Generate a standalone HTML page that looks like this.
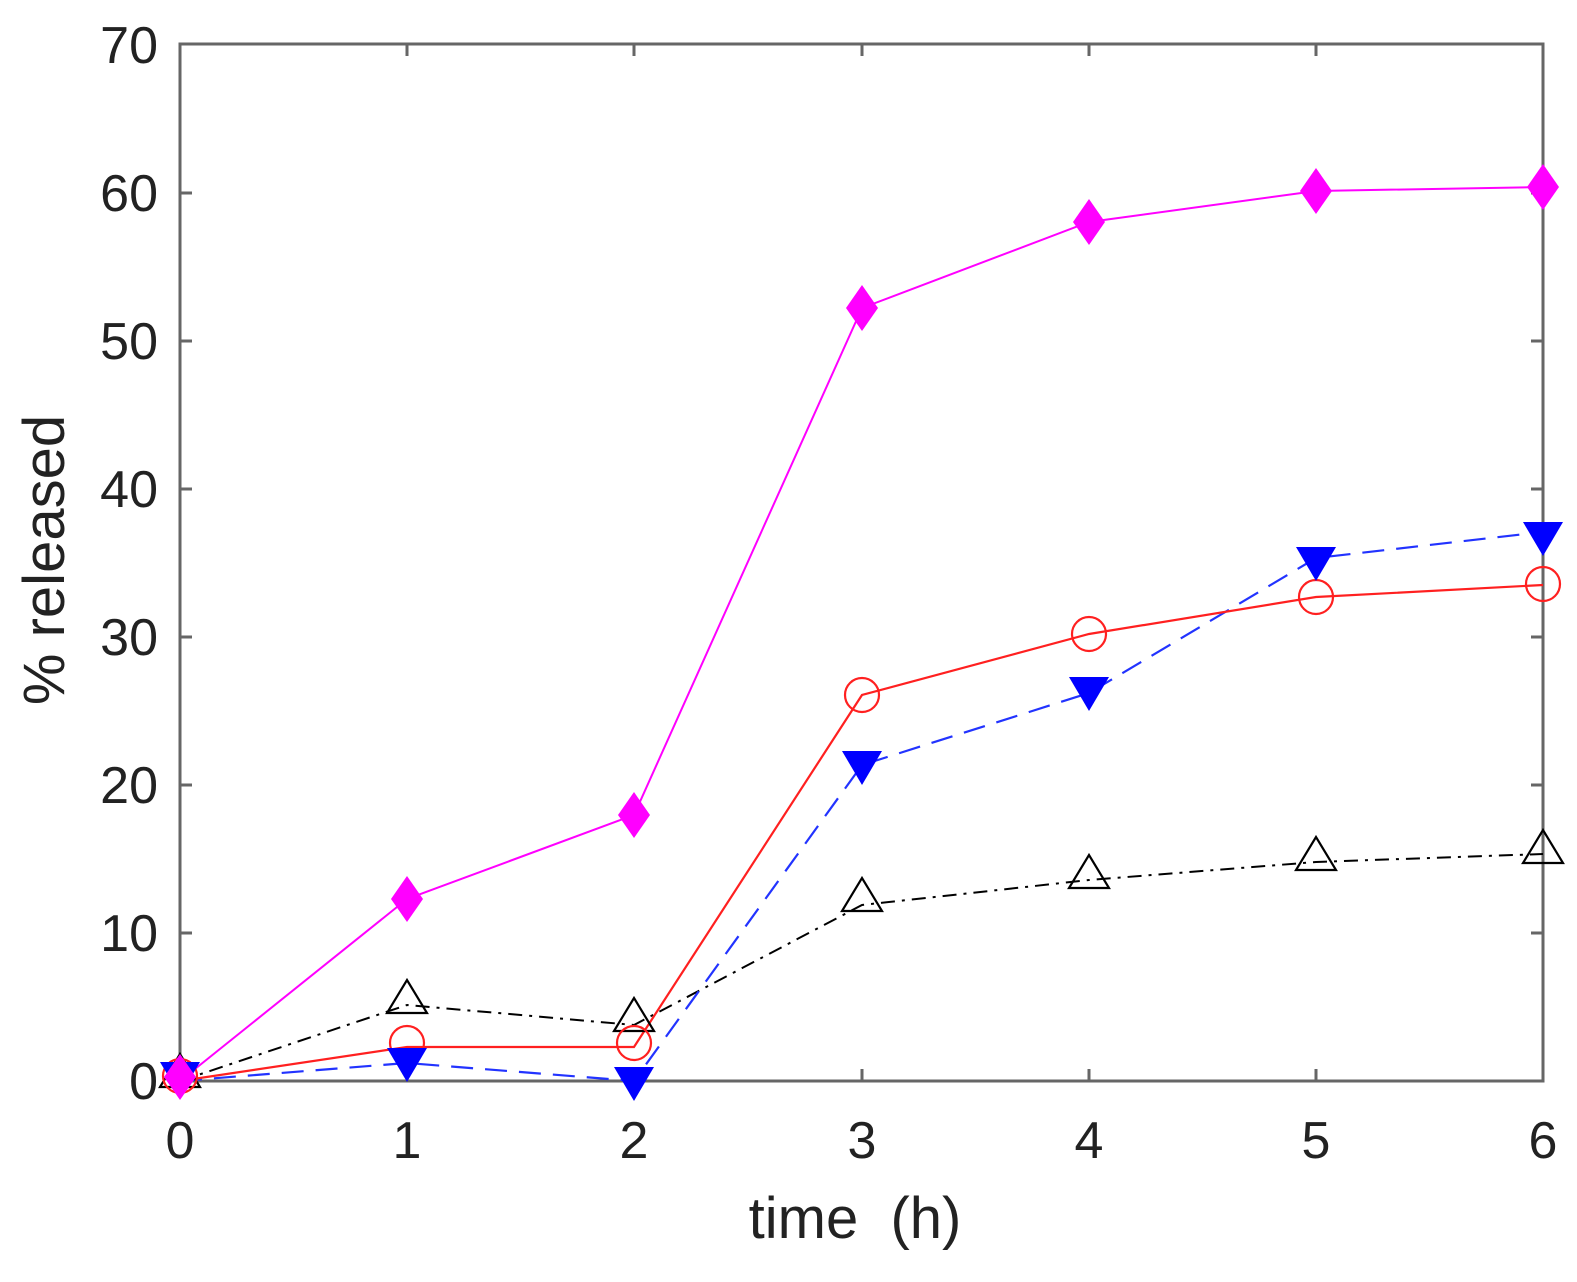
<!DOCTYPE html>
<html><head><meta charset="utf-8"><style>
html,body{margin:0;padding:0;background:#fff;}
svg{display:block;font-family:"Liberation Sans",Arial,sans-serif;}
</style></head><body>
<svg width="1577" height="1282" viewBox="0 0 1577 1282" xmlns="http://www.w3.org/2000/svg">
<defs>
<path id="dia" d="M0,-23 L16,0 L0,23 L-16,0 Z" fill="#ff00ff"/>
<path id="tdn" d="M-20,-14 L20,-14 L0,20 Z" fill="#0000ff"/>
<path id="tup" d="M-20,13 L20,13 L0,-20 Z" fill="none" stroke="#000" stroke-width="2.2"/>
<circle id="cir" r="17" fill="none" stroke="#ff2020" stroke-width="2.2"/>
</defs>
<rect x="180" y="44" width="1363" height="1037" fill="none" stroke="#666" stroke-width="3"/>
<g stroke="#666" stroke-width="3">
<path d="M407,1081v-12M634,1081v-12M862,1081v-12M1089,1081v-12M1316,1081v-12
M407,44v12M634,44v12M862,44v12M1089,44v12M1316,44v12"/>
<path d="M180,933h12M180,785h12M180,637h12M180,489h12M180,341h12M180,193h12
M1543,933h-12M1543,785h-12M1543,637h-12M1543,489h-12M1543,341h-12M1543,193h-12"/>
</g>
<g font-size="52" fill="#222" text-anchor="middle">
<text x="180" y="1158">0</text><text x="407" y="1158">1</text><text x="634" y="1158">2</text>
<text x="862" y="1158">3</text><text x="1089" y="1158">4</text><text x="1316" y="1158">5</text>
<text x="1543" y="1158">6</text>
</g>
<g font-size="52" fill="#222" text-anchor="end">
<text x="158" y="1099">0</text><text x="158" y="951">10</text><text x="158" y="803">20</text>
<text x="158" y="655">30</text><text x="158" y="507">40</text><text x="158" y="359">50</text>
<text x="158" y="211">60</text><text x="158" y="63">70</text>
</g>
<text x="855" y="1238" font-size="58" fill="#222" text-anchor="middle">time&#160;&#160;(h)</text>
<text transform="translate(64,560) rotate(-90)" font-size="58" fill="#222" text-anchor="middle">% released</text>

<polyline fill="none" stroke="#000" stroke-width="2" stroke-dasharray="14,7,3,7"
 points="180,1081 407,1005 634,1025 862,905 1089,880 1316,862 1543,854"/>
<polyline fill="none" stroke="#2233ff" stroke-width="2.2" stroke-dasharray="22,12"
 points="180,1081 407,1063 634,1081 862,765 1089,693 1316,558 1543,532"/>
<polyline fill="none" stroke="#ff2020" stroke-width="2.2"
 points="180,1081 407,1047 634,1047 862,695 1089,634 1316,597 1543,585"/>
<polyline fill="none" stroke="#ff00ff" stroke-width="2"
 points="180,1081 407,899 634,815 862,308 1089,222 1316,191 1543,187"/>

<g>
<use href="#tup" x="180" y="1074"/><use href="#tup" x="407" y="1000"/><use href="#tup" x="634" y="1018"/>
<use href="#tup" x="862" y="898"/><use href="#tup" x="1089" y="875"/><use href="#tup" x="1316" y="857"/><use href="#tup" x="1543" y="850"/>
</g>
<g>
<use href="#cir" x="180" y="1076"/><use href="#cir" x="407" y="1043"/><use href="#cir" x="634" y="1043"/>
<use href="#cir" x="862" y="695"/><use href="#cir" x="1089" y="634"/><use href="#cir" x="1316" y="597"/><use href="#cir" x="1543" y="584"/>
</g>
<g>
<use href="#tdn" x="180" y="1076"/><use href="#tdn" x="407" y="1062"/><use href="#tdn" x="634" y="1081"/>
<use href="#tdn" x="862" y="765"/><use href="#tdn" x="1089" y="691"/><use href="#tdn" x="1316" y="561"/><use href="#tdn" x="1543" y="536"/>
</g>
<g>
<use href="#dia" x="180" y="1077"/><use href="#dia" x="407" y="899"/><use href="#dia" x="634" y="815"/>
<use href="#dia" x="862" y="308"/><use href="#dia" x="1089" y="222"/><use href="#dia" x="1316" y="191"/><use href="#dia" x="1543" y="187"/>
</g>
</svg>
</body></html>
